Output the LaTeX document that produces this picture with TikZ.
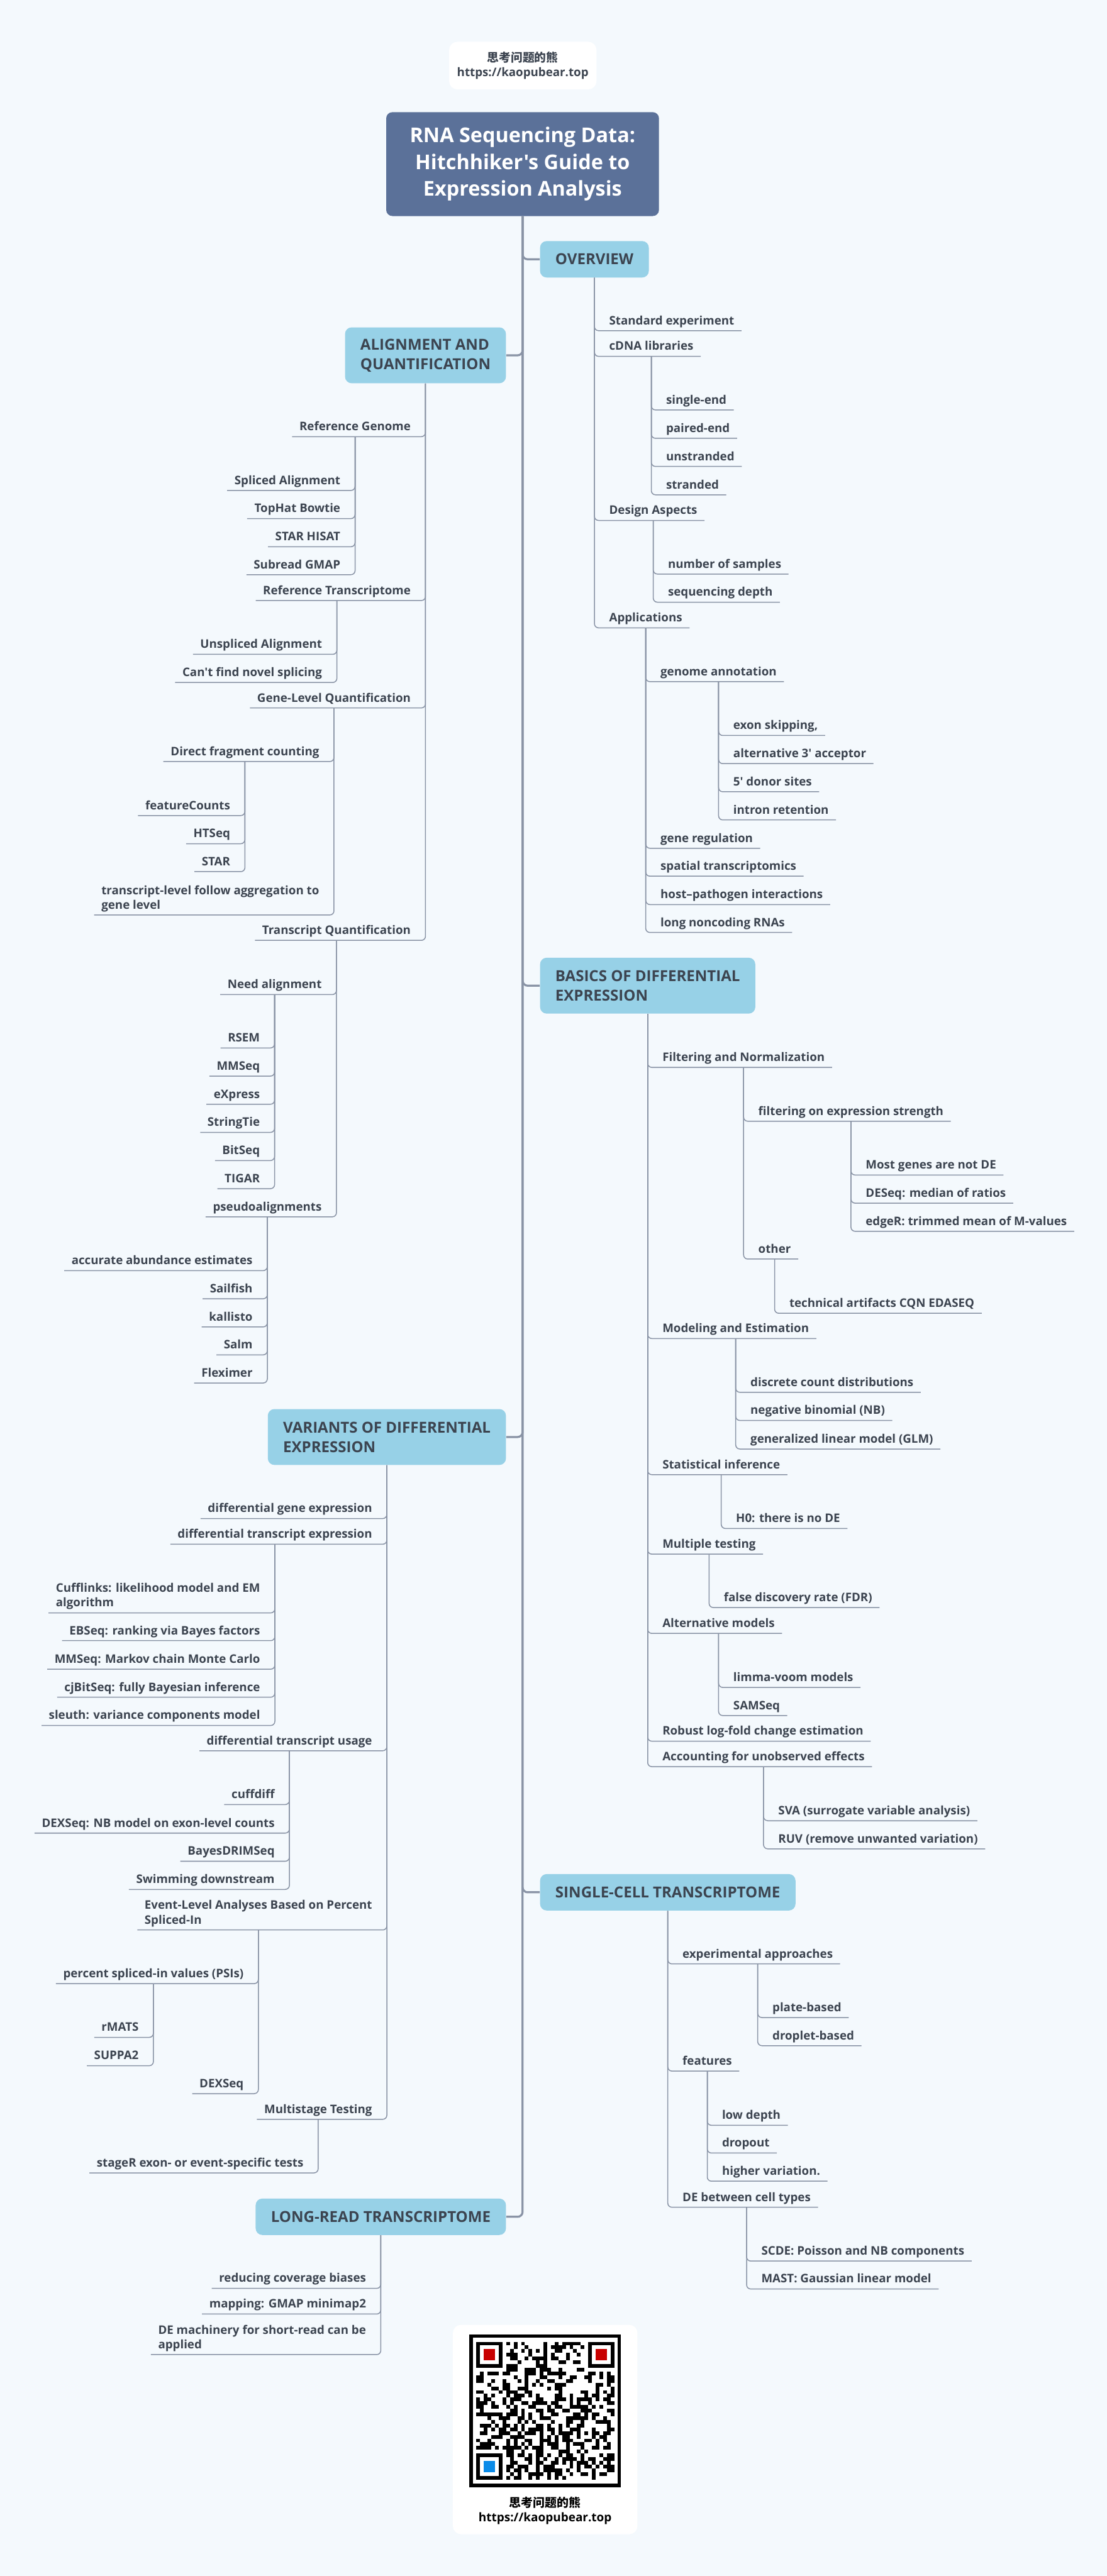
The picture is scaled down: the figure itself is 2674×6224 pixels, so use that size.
\documentclass[tikz,border=0pt]{standalone}
\usepackage{fontspec}
\setmainfont{Open Sans}[Ligatures=TeXOff]
\newfontfamily\cjkfont{Noto Sans CJK SC}
\usepackage{tikz}
\usetikzlibrary{positioning,calc}

\definecolor{bgcol}{HTML}{F4F9FD}
\definecolor{titlecol}{HTML}{5B7199}
\definecolor{topiccol}{HTML}{97D1E7}
\definecolor{inkcol}{HTML}{3C4450}
\definecolor{linecol}{HTML}{8A94A6}
\definecolor{qrred}{HTML}{C80000}
\definecolor{qrblue}{HTML}{0A8BE8}

\newcommand{\leaffont}{\fontsize{8.1}{10}\selectfont\bfseries}
\newcommand{\topicfont}{\fontsize{10.4}{13.4}\selectfont\bfseries}
\newcommand{\titlefont}{\fontsize{14}{18.4}\selectfont\bfseries}

\begin{document}
\begin{tikzpicture}[
    x=0.1mm, y=-0.1mm,
    every node/.style={text=inkcol},
    card/.style={fill=white, rounded corners=2mm, align=center, font=\leaffont},
    topic/.style={fill=topiccol, rounded corners=1.6mm, inner xsep=3.7mm, inner ysep=0pt, minimum height=8.8mm, align=left, font=\topicfont},
    leaf/.style={inner xsep=1.7mm, inner ysep=1.4mm, text depth=0pt, align=left, font=\leaffont},
    leafR/.style={leaf, anchor=south west, xshift=1.8mm},  % child right of its parent's line
    leafL/.style={leaf, anchor=south east, xshift=-1.8mm}, % child left of its parent's line
    link/.style={draw=linecol, line width=0.65pt, rounded corners=1mm},
    trunk/.style={draw=linecol, line width=1.4pt, rounded corners=1.2mm}
]

% --- Canvas ---
\useasboundingbox (0,0) rectangle (2674,6224);
\fill[bgcol] (0,0) rectangle (2674,6224);

% --- Header and title ---
\node[card, minimum width=35.6mm, minimum height=11.5mm] (hdr) at (1263,158.5)
  {{\cjkfont\bfseries 思考问题的熊}\\https://kaopubear.top};
\node[fill=titlecol, rounded corners=1.5mm, minimum width=65.9mm, minimum height=25.1mm,
      align=center, font=\titlefont, text=white] (title) at (1262.5,396.5)
  {RNA Sequencing Data:\\Hitchhiker's Guide to\\Expression Analysis};

% --- Main topics ---
\node[topic, anchor=west] (ov) at (1304,626.5) {OVERVIEW};
\node[topic, anchor=east, minimum height=13.5mm] (aq) at (1223,858.5) {ALIGNMENT AND\\QUANTIFICATION};
\node[topic, anchor=west, minimum height=13.5mm] (bd) at (1304,2381.5) {BASICS OF DIFFERENTIAL\\EXPRESSION};
\node[topic, anchor=east, minimum height=13.5mm] (vd) at (1223,3472) {VARIANTS OF DIFFERENTIAL\\EXPRESSION};
\node[topic, anchor=west] (sc) at (1304,4572) {SINGLE-CELL TRANSCRIPTOME};
\node[topic, anchor=east] (lr) at (1223,5356) {LONG-READ TRANSCRIPTOME};

% --- Overview ---
\node[leafR] (ov1) at (ov.south |- 0,799) {Standard experiment};
\node[leafR] (ov2) at (ov.south |- 0,861) {cDNA libraries};
\node[leafR] (ov2a) at (ov2.south |- 0,990.5) {single-end};
\node[leafR] (ov2b) at (ov2.south |- 0,1059) {paired-end};
\node[leafR] (ov2c) at (ov2.south |- 0,1127) {unstranded};
\node[leafR] (ov2d) at (ov2.south |- 0,1195.5) {stranded};
\node[leafR] (ov3) at (ov.south |- 0,1257.5) {Design Aspects};
\node[leafR] (ov3a) at (ov3.south |- 0,1387) {number of samples};
\node[leafR] (ov3b) at (ov3.south |- 0,1455) {sequencing depth};
\node[leafR] (ov4) at (ov.south |- 0,1517) {Applications};
\node[leafR] (ov4a) at (ov4.south |- 0,1647) {genome annotation};
\node[leafR] (ov4a1) at (ov4a.south |- 0,1777) {exon skipping,};
\node[leafR] (ov4a2) at (ov4a.south |- 0,1845) {alternative 3' acceptor};
\node[leafR] (ov4a3) at (ov4a.south |- 0,1913) {5' donor sites};
\node[leafR] (ov4a4) at (ov4a.south |- 0,1981) {intron retention};
\node[leafR] (ov4b) at (ov4.south |- 0,2049.5) {gene regulation};
\node[leafR] (ov4c) at (ov4.south |- 0,2117) {spatial transcriptomics};
\node[leafR] (ov4d) at (ov4.south |- 0,2185.5) {host–pathogen interactions};
\node[leafR] (ov4e) at (ov4.south |- 0,2253) {long noncoding RNAs};

% --- Alignment and quantification ---
\node[leafL] (aq1) at (aq.south |- 0,1055) {Reference Genome};
\node[leafL] (aq1a) at (aq1.south |- 0,1185) {Spliced Alignment};
\node[leafL] (aq1b) at (aq1.south |- 0,1253) {TopHat Bowtie};
\node[leafL] (aq1c) at (aq1.south |- 0,1321) {STAR HISAT};
\node[leafL] (aq1d) at (aq1.south |- 0,1388.5) {Subread GMAP};
\node[leafL] (aq2) at (aq.south |- 0,1451) {Reference Transcriptome};
\node[leafL] (aq2a) at (aq2.south |- 0,1581) {Unspliced Alignment};
\node[leafL] (aq2b) at (aq2.south |- 0,1649) {Can't find novel splicing};
\node[leafL] (aq3) at (aq.south |- 0,1710.5) {Gene-Level Quantification};
\node[leafL] (aq3a) at (aq3.south |- 0,1840) {Direct fragment counting};
\node[leafL] (aq3a1) at (aq3a.south |- 0,1970.5) {featureCounts};
\node[leafL] (aq3a2) at (aq3a.south |- 0,2038.5) {HTSeq};
\node[leafL] (aq3a3) at (aq3a.south |- 0,2106) {STAR};
\node[leafL] (aq3b) at (aq3.south |- 0,2210.7) {transcript-level follow aggregation to\\gene level};
\node[leafL] (aq4) at (aq.south |- 0,2272) {Transcript Quantification};
\node[leafL] (aq4a) at (aq4.south |- 0,2403) {Need alignment};
\node[leafL] (aq4a1) at (aq4a.south |- 0,2532) {RSEM};
\node[leafL] (aq4a2) at (aq4a.south |- 0,2600) {MMSeq};
\node[leafL] (aq4a3) at (aq4a.south |- 0,2668) {eXpress};
\node[leafL] (aq4a4) at (aq4a.south |- 0,2736) {StringTie};
\node[leafL] (aq4a5) at (aq4a.south |- 0,2804) {BitSeq};
\node[leafL] (aq4a6) at (aq4a.south |- 0,2872) {TIGAR};
\node[leafL] (aq4b) at (aq4.south |- 0,2940) {pseudoalignments};
\node[leafL] (aq4b1) at (aq4b.south |- 0,3070) {accurate abundance estimates};
\node[leafL] (aq4b2) at (aq4b.south |- 0,3138) {Sailfish};
\node[leafL] (aq4b3) at (aq4b.south |- 0,3206) {kallisto};
\node[leafL] (aq4b4) at (aq4b.south |- 0,3273.5) {Salm};
\node[leafL] (aq4b5) at (aq4b.south |- 0,3341.5) {Fleximer};

% --- Basics of differential expression ---
\node[leafR] (bd1) at (bd.south |- 0,2579) {Filtering and Normalization};
\node[leafR] (bd1a) at (bd1.south |- 0,2709) {filtering on expression strength};
\node[leafR] (bd1a1) at (bd1a.south |- 0,2839) {Most genes are not DE};
\node[leafR] (bd1a2) at (bd1a.south |- 0,2907) {DESeq: median of ratios};
\node[leafR] (bd1a3) at (bd1a.south |- 0,2975) {edgeR: trimmed mean of M-values};
\node[leafR] (bd1b) at (bd1.south |- 0,3042) {other};
\node[leafR] (bd1b1) at (bd1b.south |- 0,3173) {technical artifacts CQN EDASEQ};
\node[leafR] (bd2) at (bd.south |- 0,3234) {Modeling and Estimation};
\node[leafR] (bd2a) at (bd2.south |- 0,3364) {discrete count distributions};
\node[leafR] (bd2b) at (bd2.south |- 0,3432) {negative binomial (NB)};
\node[leafR] (bd2c) at (bd2.south |- 0,3501) {generalized linear model (GLM)};
\node[leafR] (bd3) at (bd.south |- 0,3563) {Statistical inference};
\node[leafR] (bd3a) at (bd3.south |- 0,3693) {H0: there is no DE};
\node[leafR] (bd4) at (bd.south |- 0,3755) {Multiple testing};
\node[leafR] (bd4a) at (bd4.south |- 0,3884) {false discovery rate (FDR)};
\node[leafR] (bd5) at (bd.south |- 0,3946.5) {Alternative models};
\node[leafR] (bd5a) at (bd5.south |- 0,4077) {limma-voom models};
\node[leafR] (bd5b) at (bd5.south |- 0,4145) {SAMSeq};
\node[leafR] (bd6) at (bd.south |- 0,4207) {Robust log-fold change estimation};
\node[leafR] (bd7) at (bd.south |- 0,4268.5) {Accounting for unobserved effects};
\node[leafR] (bd7a) at (bd7.south |- 0,4399) {SVA (surrogate variable analysis)};
\node[leafR] (bd7b) at (bd7.south |- 0,4467) {RUV (remove unwanted variation)};

% --- Variants of differential expression ---
\node[leafL] (vd1) at (vd.south |- 0,3669) {differential gene expression};
\node[leafL] (vd2) at (vd.south |- 0,3731) {differential transcript expression};
\node[leafL] (vd2a) at (vd2.south |- 0,3897) {Cufflinks: likelihood model and EM\\algorithm};
\node[leafL] (vd2b) at (vd2.south |- 0,3964) {EBSeq: ranking via Bayes factors};
\node[leafL] (vd2c) at (vd2.south |- 0,4033) {MMSeq: Markov chain Monte Carlo};
\node[leafL] (vd2d) at (vd2.south |- 0,4100.7) {cjBitSeq: fully Bayesian inference};
\node[leafL] (vd2e) at (vd2.south |- 0,4169) {sleuth: variance components model};
\node[leafL] (vd3) at (vd.south |- 0,4230) {differential transcript usage};
\node[leafL] (vd3a) at (vd3.south |- 0,4360) {cuffdiff};
\node[leafL] (vd3b) at (vd3.south |- 0,4429) {DEXSeq: NB model on exon-level counts};
\node[leafL] (vd3c) at (vd3.south |- 0,4497) {BayesDRIMSeq};
\node[leafL] (vd3d) at (vd3.south |- 0,4565) {Swimming downstream};
\node[leafL] (vd4) at (vd.south |- 0,4663) {Event-Level Analyses Based on Percent\\Spliced-In};
\node[leafL] (vd4a) at (vd4.south |- 0,4792.7) {percent spliced-in values (PSIs)};
\node[leafL] (vd4a1) at (vd4a.south |- 0,4922.5) {rMATS};
\node[leafL] (vd4a2) at (vd4a.south |- 0,4991) {SUPPA2};
\node[leafL] (vd4b) at (vd4.south |- 0,5058.5) {DEXSeq};
\node[leafL] (vd5) at (vd.south |- 0,5120.5) {Multistage Testing};
\node[leafL] (vd5a) at (vd5.south |- 0,5250) {stageR exon- or event-specific tests};

% --- Single-cell transcriptome ---
\node[leafR] (sc1) at (sc.south |- 0,4745) {experimental approaches};
\node[leafR] (sc1a) at (sc1.south |- 0,4874.6) {plate-based};
\node[leafR] (sc1b) at (sc1.south |- 0,4942.6) {droplet-based};
\node[leafR] (sc2) at (sc.south |- 0,5004) {features};
\node[leafR] (sc2a) at (sc2.south |- 0,5135) {low depth};
\node[leafR] (sc2b) at (sc2.south |- 0,5202) {dropout};
\node[leafR] (sc2c) at (sc2.south |- 0,5270) {higher variation.};
\node[leafR] (sc3) at (sc.south |- 0,5333) {DE between cell types};
\node[leafR] (sc3a) at (sc3.south |- 0,5463) {SCDE: Poisson and NB components};
\node[leafR] (sc3b) at (sc3.south |- 0,5530.5) {MAST: Gaussian linear model};

% --- Long-read transcriptome ---
\node[leafL] (lr1) at (lr.south |- 0,5529) {reducing coverage biases};
\node[leafL] (lr2) at (lr.south |- 0,5591) {mapping: GMAP minimap2};
\node[leafL] (lr3) at (lr.south |- 0,5689) {DE machinery for short-read can be\\applied};

% --- Trunk: title to main topics ---
\foreach \b in {ov,bd,sc} \draw[trunk] (title.south) |- (\b.west);
\foreach \b in {aq,vd,lr} \draw[trunk] (title.south) |- (\b.east);

% --- Links on the right (parent/child list) ---
\foreach \p/\kids in {ov/{ov1,ov2,ov3,ov4}, ov2/{ov2a,ov2b,ov2c,ov2d}, ov3/{ov3a,ov3b},
    ov4/{ov4a,ov4b,ov4c,ov4d,ov4e}, ov4a/{ov4a1,ov4a2,ov4a3,ov4a4},
    bd/{bd1,bd2,bd3,bd4,bd5,bd6,bd7}, bd1/{bd1a,bd1b}, bd1a/{bd1a1,bd1a2,bd1a3}, bd1b/{bd1b1},
    bd2/{bd2a,bd2b,bd2c}, bd3/{bd3a}, bd4/{bd4a}, bd5/{bd5a,bd5b}, bd7/{bd7a,bd7b},
    sc/{sc1,sc2,sc3}, sc1/{sc1a,sc1b}, sc2/{sc2a,sc2b,sc2c}, sc3/{sc3a,sc3b}}{
  \foreach \c in \kids \draw[link] (\p.south) |- (\c.south east);
}

% --- Links on the left ---
\foreach \p/\kids in {aq/{aq1,aq2,aq3,aq4}, aq1/{aq1a,aq1b,aq1c,aq1d}, aq2/{aq2a,aq2b},
    aq3/{aq3a,aq3b}, aq3a/{aq3a1,aq3a2,aq3a3}, aq4/{aq4a,aq4b},
    aq4a/{aq4a1,aq4a2,aq4a3,aq4a4,aq4a5,aq4a6}, aq4b/{aq4b1,aq4b2,aq4b3,aq4b4,aq4b5},
    vd/{vd1,vd2,vd3,vd4,vd5}, vd2/{vd2a,vd2b,vd2c,vd2d,vd2e}, vd3/{vd3a,vd3b,vd3c,vd3d},
    vd4/{vd4a,vd4b}, vd4a/{vd4a1,vd4a2}, vd5/{vd5a},
    lr/{lr1,lr2,lr3}}{
  \foreach \c in \kids \draw[link] (\p.south) |- (\c.south west);
}

% --- QR card ---
\node[card, minimum width=44.6mm, minimum height=50.6mm] (qrbox) at (1317,5870) {};
\node[align=center, font=\fontsize{8.2}{10.2}\selectfont\bfseries, text=black] (qrtext) at (1317,6066)
  {{\cjkfont\bfseries 思考问题的熊}\\https://kaopubear.top};
\draw[black, line width=0.8mm] (1138,5644) rectangle (1496,6005);
\pgfmathsetseed{17}
\foreach \i in {0,...,36}{
  \foreach \j in {0,...,36}{
    \pgfmathtruncatemacro\qon{((\i<8 && \j<8) || (\i>28 && \j<8) || (\i<8 && \j>28)) ? 0 : (rnd<0.48 ? 1 : 0)}
    \ifnum\qon=1 \fill[black] (1151+9*\i,5658+9*\j) rectangle ++(9,9); \fi
  }
}
\foreach \fx/\fy/\fc in {0/0/qrred, 30/0/qrred, 0/30/qrblue}{
  \fill[black] (1151+9*\fx,5658+9*\fy) rectangle ++(63,63);
  \fill[white] (1160+9*\fx,5667+9*\fy) rectangle ++(45,45);
  \fill[\fc] (1169+9*\fx,5676+9*\fy) rectangle ++(27,27);
}

\end{tikzpicture}
\end{document}
